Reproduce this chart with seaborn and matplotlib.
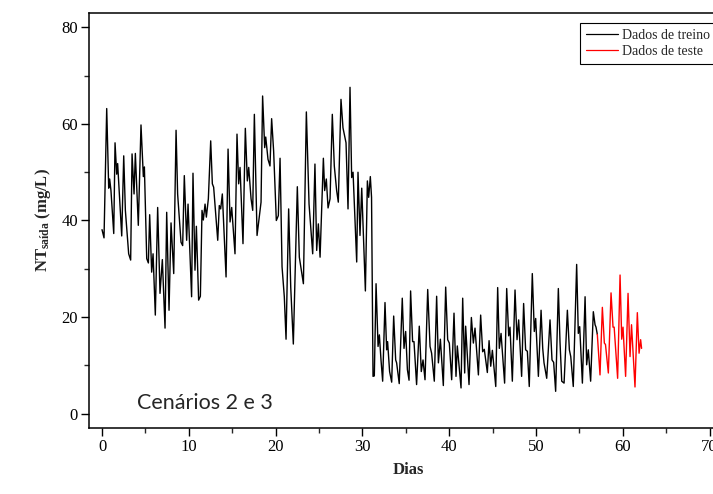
import matplotlib
matplotlib.use("Agg")
import matplotlib.pyplot as plt
import seaborn as sns
import pandas as pd
from matplotlib.ticker import MultipleLocator
from matplotlib.lines import Line2D

dias_treino = [0.0, 0.23, 0.54, 0.77, 0.88, 1.03, 1.35, 1.5, 1.69, 1.8, 2.27, 2.5, 2.69, 3.07, 3.3,
               3.46, 3.69, 3.84, 4.18, 4.49, 4.76, 4.88, 5.15, 5.34, 5.49, 5.72, 5.88, 6.14, 6.41,
               6.68, 6.95, 7.26, 7.45, 7.72, 7.95, 8.26, 8.53, 8.71, 9.1, 9.29, 9.48, 9.75, 9.91,
               10.32, 10.48, 10.71, 10.87, 11.13, 11.33, 11.52, 11.67, 11.87, 12.02, 12.25, 12.52,
               12.71, 12.86, 13.33, 13.51, 13.67, 13.86, 14.29, 14.52, 14.75, 14.94, 15.32, 15.55,
               15.74, 15.9, 16.24, 16.51, 16.74, 16.9, 17.17, 17.36, 17.55, 17.86, 18.32, 18.5,
               18.74, 18.86, 19.12, 19.35, 19.54, 19.77, 20.08, 20.31, 20.51, 20.74, 21.0, 21.2,
               21.5, 21.74, 22.04, 22.5, 22.73, 23.2, 23.54, 23.85, 24.27, 24.53, 24.73, 24.92,
               25.12, 25.5, 25.65, 25.84, 26.04, 26.27, 26.53, 26.76, 27.03, 27.22, 27.53, 27.76,
               28.11, 28.34, 28.57, 28.76, 28.92, 29.34, 29.49, 29.72, 29.92, 30.34, 30.57, 30.72,
               30.91, 31.05, 31.22, 31.37, 31.57, 31.8, 31.95, 32.14, 32.33, 32.6, 32.79, 32.9,
               33.13, 33.37, 33.6, 33.83, 33.94, 34.24, 34.59, 34.79, 34.98, 35.18, 35.37, 35.55,
               35.78, 35.94, 36.24, 36.55, 36.78, 36.98, 37.21, 37.52, 37.79, 37.97, 38.28, 38.55,
               38.75, 38.98, 39.32, 39.59, 39.82, 40.01, 40.28, 40.55, 40.78, 40.93, 41.36, 41.55,
               41.78, 41.89, 42.28, 42.55, 42.78, 42.97, 43.36, 43.62, 43.85, 44.04, 44.39, 44.59,
               44.78, 44.97, 45.36, 45.58, 45.77, 45.97, 46.38, 46.62, 46.85, 47.0, 47.27, 47.58,
               47.81, 48.0, 48.34, 48.57, 48.8, 49.0, 49.22, 49.57, 49.8, 49.96, 50.27, 50.58,
               50.77, 50.92, 51.23, 51.61, 51.84, 52.03, 52.26, 52.57, 52.76, 52.96, 53.23, 53.61,
               53.84, 54.0, 54.29, 54.68, 54.87, 55.03, 55.34, 55.65, 55.83, 56.02, 56.29, 56.6,
               56.8, 56.91, 57.06]
nt_treino = [38.1, 36.4, 63.2, 46.7, 48.6, 46.2, 37.3, 56.1, 49.6, 51.8, 36.8, 53.4, 42.1, 33.1, 31.8,
             53.8, 45.5, 53.9, 39.0, 59.8, 49.1, 51.1, 32.1, 31.2, 41.2, 29.3, 33.1, 20.4, 42.7,
             24.9, 31.9, 17.7, 41.7, 21.4, 39.5, 29.0, 58.7, 45.5, 35.5, 34.8, 49.3, 35.9, 43.4,
             24.2, 49.8, 29.7, 38.8, 23.5, 24.3, 42.1, 40.1, 43.4, 40.7, 44.5, 56.5,
             47.6, 46.9, 35.9, 43.1, 42.4, 45.5, 28.3, 54.8, 39.7, 42.7, 33.1, 57.9,
             47.6, 51.0, 35.2, 59.1, 48.2, 51.0, 44.5, 42.1, 62.0, 36.9, 43.8, 65.8,
             55.1, 57.3, 52.7, 51.3, 61.1, 54.4, 40.0, 41.0, 52.9, 30.4, 24.2, 15.4,
             42.4, 26.2, 14.4, 47.0, 32.4, 26.9, 62.5, 43.4, 33.1, 51.7, 33.8, 39.3,
             32.4, 52.9, 46.2, 48.6, 42.6, 44.5, 62.0, 51.3, 46.2, 43.8, 65.1, 59.2,
             56.1, 42.4, 67.6, 48.9, 50.0, 31.4, 50.0, 36.9, 46.7, 25.4, 48.2, 44.8,
             49.1, 44.8, 7.7, 7.8, 26.9, 13.9, 16.3, 11.1, 6.7, 23.0, 13.2, 14.9,
             8.7, 6.5, 20.2, 11.1, 10.5, 6.2, 23.9, 13.5, 17.0, 9.1, 6.9, 25.4,
             14.9, 14.9, 6.0, 18.1, 8.7, 11.1, 7.0, 25.7, 13.9, 12.5, 6.7, 24.3,
             10.5, 15.4, 5.8, 26.2, 15.3, 14.6, 7.0, 20.8, 7.7, 14.0, 5.3, 23.9,
             8.4, 18.1, 6.0, 19.9, 14.6, 17.7, 8.0, 20.4, 12.8, 13.3, 8.5, 15.1,
             9.8, 13.1, 5.6, 26.1, 13.5, 16.6, 6.3, 25.9, 16.1, 17.9, 6.7, 25.6,
             15.3, 19.4, 7.7, 22.8, 13.2, 12.9, 5.6, 29.0, 17.0, 19.7, 7.7, 21.4,
             13.5, 10.5, 7.3, 19.4, 11.1, 10.6, 4.6, 25.9, 14.9, 6.7, 6.3, 21.4,
             13.2, 11.8, 5.6, 30.9, 16.6, 18.0, 6.3, 24.2, 10.1, 13.2, 6.7, 21.1,
             18.4, 17.9, 16.4]

dias_teste = [57.06, 57.37, 57.64, 57.87, 58.0, 58.33, 58.64, 58.87, 59.0, 59.4, 59.68, 59.87,
              60.02, 60.32, 60.6, 60.83, 61.0, 61.4, 61.67, 61.87, 62.05, 62.16]
nt_teste = [16.4, 8.0, 22.0, 14.6, 14.3, 8.4, 25.0, 17.9, 17.9, 7.3, 28.7, 15.4,
            17.9, 7.7, 24.9, 11.8, 18.4, 5.5, 20.9, 12.5, 15.3, 13.5]

serie_nomes = ["Dados de treino", "Dados de teste"]
x_ticks = [0, 10, 20, 30, 40, 50, 60, 70]
y_ticks = [0, 20, 40, 60, 80]

sns.set_style("ticks")
plt.rcParams['font.family'] = ['Liberation Serif', 'DejaVu Serif']
plt.rcParams['mathtext.default'] = 'regular'

df = pd.concat([
    pd.DataFrame({"dia": dias_treino, "nt": nt_treino, "serie": serie_nomes[0]}),
    pd.DataFrame({"dia": dias_teste, "nt": nt_teste, "serie": serie_nomes[1]}),
])

fig = plt.figure(figsize=(7.13, 4.94), dpi=100)
ax = fig.add_axes([89/713, 66/494, 638/713, 415/494])

sns.lineplot(data=df, x="dia", y="nt", hue="serie", palette=["black", "#ff0000"],
             estimator=None, sort=False, linewidth=1.0, ax=ax, legend=False)

ax.set_xlim(-1.5, 72)
ax.set_ylim(-3, 83)
ax.set_xticks(x_ticks)
ax.set_yticks(y_ticks)
ax.xaxis.set_minor_locator(MultipleLocator(5))
ax.yaxis.set_minor_locator(MultipleLocator(10))
ax.tick_params(which='major', direction='out', length=6, width=1.0, labelsize=12, colors='black', pad=2)
ax.tick_params(which='minor', direction='out', length=3.5, width=1.0)
for s in ax.spines.values():
    s.set_visible(True)
    s.set_linewidth(1.1)
    s.set_color('black')

ax.set_xlabel("Dias", fontsize=12, fontweight='bold', labelpad=5)
ax.set_ylabel("NT$_{saída}$ (mg/L)", fontsize=12, fontweight='bold', labelpad=6)

ax.text(0.075, 0.035, "Cenários 2 e 3", transform=ax.transAxes, fontsize=15.5,
        family=['Lato', 'DejaVu Sans'], ha='left', va='bottom')

handles = [Line2D([], [], color='black', lw=0.9), Line2D([], [], color='#ff0000', lw=0.9)]
leg = fig.legend(handles, serie_nomes, loc='upper left', bbox_to_anchor=(580/713, 1 - 23/494),
                 fontsize=10, frameon=True, fancybox=False, edgecolor='black', framealpha=1,
                 borderpad=0.4, labelspacing=0.25, handlelength=2.3, handletextpad=0.35,
                 borderaxespad=0)
leg.get_frame().set_linewidth(0.8)

fig.savefig("out.png", dpi=100)
